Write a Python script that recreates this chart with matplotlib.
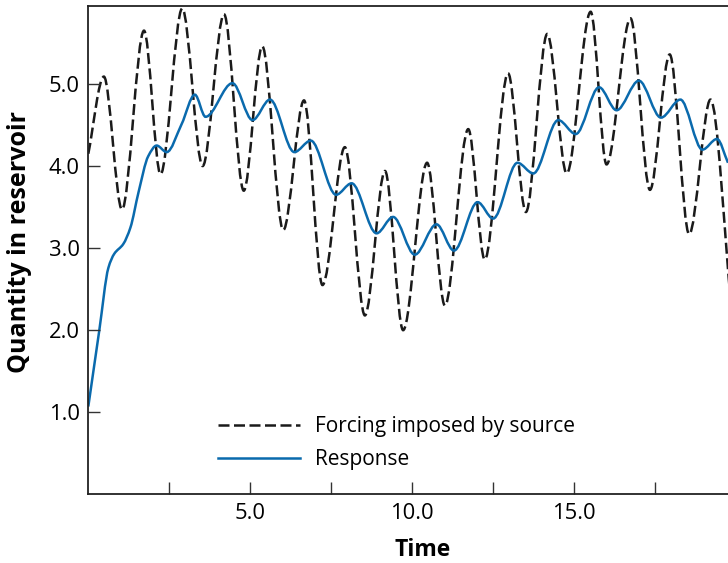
import numpy as np
import matplotlib.pyplot as plt
from matplotlib.path import Path
from matplotlib.patches import PathPatch
from matplotlib.lines import Line2D

plt.rcParams['font.family'] = ['Open Sans', 'DejaVu Sans']

# Forcing (dashed) - turning points
forcing_t = [0.0, 0.48, 1.04, 1.72, 2.23, 2.90, 3.53, 4.19, 4.80, 5.37, 6.02, 6.66,
             7.23, 7.92, 8.54, 9.16, 9.72, 10.46, 11.01, 11.73, 12.24, 12.96, 13.51,
             14.17, 14.77, 15.51, 16.00, 16.74, 17.34, 17.95, 18.55, 19.21, 19.85]
forcing_q = [4.15, 5.09, 3.47, 5.65, 3.90, 5.92, 4.00, 5.85, 3.70, 5.46, 3.22, 4.80,
             2.55, 4.23, 2.18, 3.94, 2.00, 4.04, 2.30, 4.45, 2.86, 5.13, 3.44,
             5.61, 3.91, 5.88, 4.02, 5.80, 3.71, 5.36, 3.17, 4.81, 2.30]

# Response (blue)
response_t = [0.0, 0.34, 0.62, 0.80, 1.08, 1.30, 1.55, 1.85, 2.11, 2.42, 2.88, 3.29,
              3.62, 4.45, 5.07, 5.61, 6.36, 6.87, 7.65, 8.13, 8.90, 9.41, 10.08,
              10.75, 11.29, 12.02, 12.50, 13.25, 13.74, 14.51, 15.05, 15.77, 16.31,
              17.00, 17.68, 18.28, 18.96, 19.41, 19.75]
response_q = [1.07, 2.00, 2.76, 2.93, 3.05, 3.25, 3.68, 4.12, 4.25, 4.17, 4.51, 4.87,
              4.60, 5.01, 4.56, 4.81, 4.17, 4.31, 3.65, 3.79, 3.18, 3.38, 2.92,
              3.29, 2.97, 3.56, 3.36, 4.04, 3.91, 4.56, 4.39, 4.96, 4.68,
              5.04, 4.59, 4.81, 4.20, 4.33, 4.04]

x_ticks = [2.5, 5.0, 7.5, 10.0, 12.5, 15.0, 17.5]
x_labels = ['', '5.0', '', '10.0', '', '15.0', '']
y_ticks = [1.0, 2.0, 3.0, 4.0, 5.0]
y_labels = ['1.0', '2.0', '3.0', '4.0', '5.0']

BLUE = '#0a6aad'


def smooth_path(xs, ys):
    """Bezier path through the points with monotone (pchip-like) tangents."""
    x = np.asarray(xs, float)
    y = np.asarray(ys, float)
    h = np.diff(x)
    d = np.diff(y) / h
    m = np.zeros_like(x)
    m[0], m[-1] = d[0], d[-1]
    for k in range(1, len(x) - 1):
        if d[k - 1] * d[k] > 0:
            w1 = 2 * h[k] + h[k - 1]
            w2 = h[k] + 2 * h[k - 1]
            m[k] = (w1 + w2) / (w1 / d[k - 1] + w2 / d[k])
    verts = [(x[0], y[0])]
    codes = [Path.MOVETO]
    for k in range(len(h)):
        verts += [(x[k] + h[k] / 3, y[k] + m[k] * h[k] / 3),
                  (x[k + 1] - h[k] / 3, y[k + 1] - m[k + 1] * h[k] / 3),
                  (x[k + 1], y[k + 1])]
        codes += [Path.CURVE4] * 3
    return Path(verts, codes)


fig = plt.figure(figsize=(7.28, 5.63), dpi=100)
ax = fig.add_axes([0.1213, 0.122, 0.8787, 0.8673])

dash = (0, (4.4, 1.8))
ax.add_patch(PathPatch(smooth_path(forcing_t, forcing_q), fill=False,
                       edgecolor='#1a1a1a', lw=1.8, linestyle=dash, capstyle='butt'))
ax.add_patch(PathPatch(smooth_path(response_t, response_q), fill=False,
                       edgecolor=BLUE, lw=1.8))

ax.set_xlim(0, 19.75)
ax.set_ylim(0, 5.95)

ax.spines['right'].set_visible(False)
for s in ['left', 'bottom', 'top']:
    ax.spines[s].set_linewidth(1.3)
    ax.spines[s].set_color('#222222')

ax.set_xticks(x_ticks)
ax.set_xticklabels(x_labels)
ax.set_yticks(y_ticks)
ax.set_yticklabels(y_labels)
ax.tick_params(direction='in', length=8.5, width=1.0, color='#333333',
               labelsize=15.8, pad=6)

ax.set_xlabel('Time', fontsize=16.5, fontweight='bold')
ax.xaxis.set_label_coords(0.5224, -0.089)
ax.set_ylabel('Quantity in reservoir', fontsize=18, fontweight='bold')
ax.yaxis.set_label_coords(-0.088, 0.516)

handles = [Line2D([], [], color='#1a1a1a', lw=1.8, linestyle=dash),
           Line2D([], [], color=BLUE, lw=1.8)]
ax.legend(handles, ['Forcing imposed by source', 'Response'], frameon=False,
          fontsize=15, handlelength=3.94, handletextpad=0.72, labelspacing=0.57,
          loc='upper left', bbox_to_anchor=(0.19, 0.177), borderaxespad=0)

fig.savefig('out.png', dpi=100)
